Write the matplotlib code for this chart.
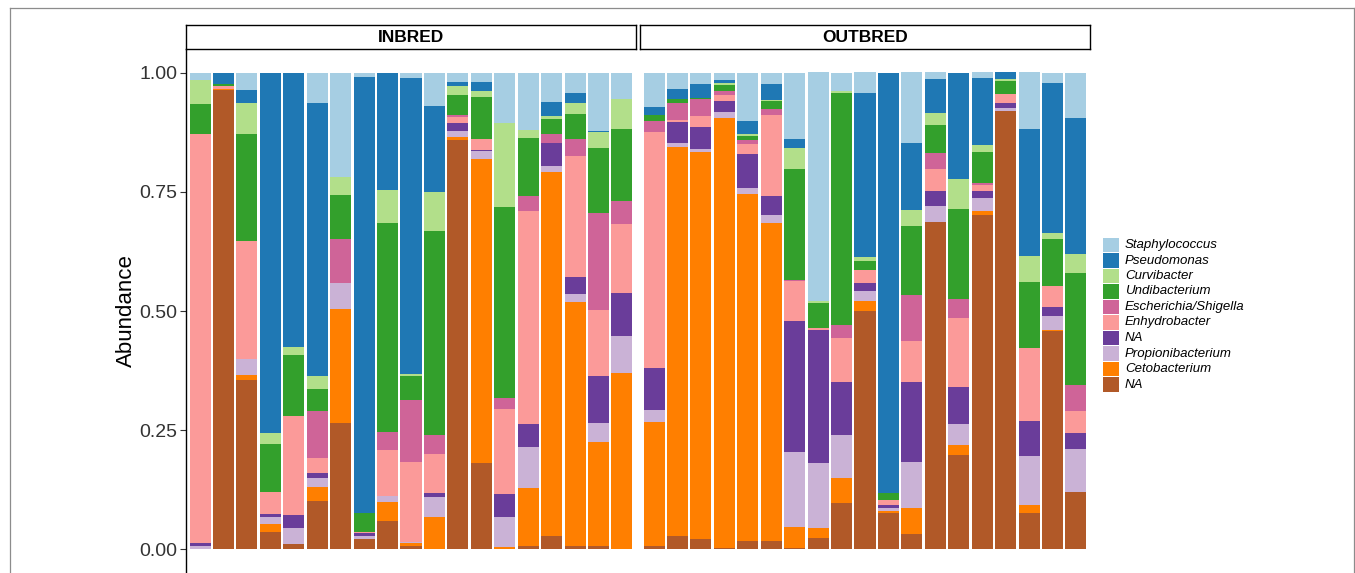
import matplotlib
matplotlib.use("Agg")
import matplotlib.pyplot as plt
import numpy as np
from matplotlib.lines import Line2D
from matplotlib.patches import Rectangle

plt.rcParams["font.family"] = ["Liberation Sans", "DejaVu Sans"]

# genus order from the bottom of each stack to the top
genera = [
    "NA", "Cetobacterium", "Propionibacterium", "NA", "Enhydrobacter",
    "Escherichia/Shigella", "Undibacterium", "Curvibacter", "Pseudomonas",
    "Staphylococcus",
]
colours = [
    "#B15928", "#FF7F00", "#CAB2D6", "#6A3D9A", "#FB9A99",
    "#CF6498", "#33A02C", "#B2DF8A", "#1F78B4", "#A6CEE3",
]

groups = ["INBRED", "OUTBRED"]

# relative abundance per sample, INBRED samples 1-19
inbred_na_brown = [0, 0.963, 0.355, 0.036, 0.010, 0.101, 0.265, 0.022, 0.059, 0.006,
                   0, 0.859, 0.181, 0, 0.006, 0.027, 0.007, 0.007, 0]
inbred_cetobacterium = [0, 0.003, 0.011, 0.017, 0, 0.029, 0.240, 0, 0.040, 0.006,
                        0.067, 0.006, 0.639, 0.005, 0.122, 0.765, 0.511, 0.218, 0.369]
inbred_propionibacterium = [0.007, 0, 0.033, 0.014, 0.034, 0.020, 0.054, 0.006, 0.012, 0.003,
                            0.042, 0.013, 0.015, 0.063, 0.086, 0.013, 0.018, 0.039, 0.078]
inbred_na_purple = [0.006, 0, 0, 0.006, 0.028, 0.010, 0, 0.005, 0, 0,
                    0.008, 0.016, 0.004, 0.048, 0.048, 0.047, 0.036, 0.099, 0.090]
inbred_enhydrobacter = [0.859, 0.007, 0.247, 0.047, 0.208, 0.032, 0, 0.003, 0.097, 0.168,
                        0.082, 0.014, 0.022, 0.178, 0.448, 0, 0.253, 0.140, 0.146]
inbred_escherichia = [0, 0, 0, 0, 0, 0.098, 0.092, 0, 0.038, 0.131,
                      0.041, 0.003, 0, 0.024, 0.031, 0.020, 0.036, 0.202, 0.047]
inbred_undibacterium = [0.063, 0.004, 0.226, 0.101, 0.128, 0.047, 0.092, 0.039, 0.438, 0.049,
                        0.427, 0.042, 0.089, 0.400, 0.123, 0.031, 0.053, 0.138, 0.153]
inbred_curvibacter = [0.049, 0, 0.064, 0.022, 0.017, 0.026, 0.038, 0, 0.070, 0.004,
                      0.082, 0.019, 0.012, 0.176, 0.015, 0.007, 0.022, 0.032, 0.062]
inbred_pseudomonas = [0, 0.023, 0.027, 0.757, 0.575, 0.573, 0, 0.916, 0.246, 0.623,
                      0.182, 0.008, 0.019, 0, 0, 0.029, 0.022, 0.003, 0]
inbred_staphylococcus = [0.016, 0, 0.037, 0, 0, 0.064, 0.218, 0.009, 0, 0.009,
                         0.069, 0.019, 0.019, 0.106, 0.120, 0.061, 0.041, 0.122, 0.055]

# OUTBRED samples 1-19
outbred_na_brown = [0.006, 0.027, 0.022, 0.003, 0.017, 0.017, 0.003, 0.024, 0.097, 0.499,
                    0.077, 0.032, 0.686, 0.197, 0.702, 0.919, 0.077, 0.458, 0.120]
outbred_cetobacterium = [0.261, 0.818, 0.811, 0.903, 0.729, 0.667, 0.044, 0.020, 0.053, 0.023,
                         0.003, 0.054, 0, 0.022, 0.008, 0, 0.015, 0.003, 0]
outbred_propionibacterium = [0.026, 0.007, 0.007, 0.012, 0.012, 0.017, 0.158, 0.137, 0.090, 0.019,
                             0.007, 0.096, 0.035, 0.044, 0.028, 0.007, 0.104, 0.028, 0.090]
outbred_na_purple = [0.087, 0.044, 0.046, 0.023, 0.071, 0.041, 0.273, 0.279, 0.111, 0.018,
                     0.005, 0.170, 0.030, 0.077, 0.013, 0.011, 0.074, 0.020, 0.034]
outbred_enhydrobacter = [0.496, 0.006, 0.024, 0.012, 0.021, 0.170, 0.085, 0.005, 0.093, 0.028,
                         0.012, 0.086, 0.048, 0.145, 0.014, 0.018, 0.152, 0.043, 0.047]
outbred_escherichia = [0.023, 0.035, 0.035, 0.008, 0.009, 0.011, 0.002, 0, 0.026, 0,
                       0, 0.095, 0.032, 0.041, 0.004, 0, 0, 0, 0.053]
outbred_undibacterium = [0.012, 0.009, 0.002, 0.013, 0.008, 0.017, 0.233, 0.051, 0.487, 0.017,
                         0.014, 0.146, 0.059, 0.188, 0.064, 0.027, 0.138, 0.100, 0.235]
outbred_curvibacter = [0, 0, 0, 0.005, 0.004, 0.003, 0.044, 0.005, 0.004, 0.009,
                       0, 0.034, 0.026, 0.064, 0.015, 0.004, 0.055, 0.011, 0.041]
outbred_pseudomonas = [0.017, 0.021, 0.030, 0.006, 0.027, 0.033, 0.019, 0, 0, 0.345,
                       0.882, 0.140, 0.070, 0.221, 0.142, 0.015, 0.268, 0.315, 0.285]
outbred_staphylococcus = [0.071, 0.032, 0.023, 0.015, 0.101, 0.024, 0.139, 0.480, 0.039, 0.043,
                          0, 0.148, 0.015, 0, 0.011, 0, 0.118, 0.022, 0.095]

panel_data = {
    "INBRED": [inbred_na_brown, inbred_cetobacterium, inbred_propionibacterium,
               inbred_na_purple, inbred_enhydrobacter, inbred_escherichia,
               inbred_undibacterium, inbred_curvibacter, inbred_pseudomonas,
               inbred_staphylococcus],
    "OUTBRED": [outbred_na_brown, outbred_cetobacterium, outbred_propionibacterium,
                outbred_na_purple, outbred_enhydrobacter, outbred_escherichia,
                outbred_undibacterium, outbred_curvibacter, outbred_pseudomonas,
                outbred_staphylococcus],
}

W, H = 1355, 573
fig = plt.figure(figsize=(W / 100, H / 100), dpi=100)


def fx(px):
    return px / W


def fy(py):
    return 1 - py / H


panel_left = [186, 640]
panel_w = 450
panel_top, panel_bottom = 49, 573
strip_top = 25

for i, grp in enumerate(groups):
    ax = fig.add_axes([fx(panel_left[i]), fy(panel_bottom), fx(panel_w),
                       (panel_bottom - panel_top) / H])
    series = panel_data[grp]
    n = len(series[0])
    x = np.arange(1, n + 1)
    bottom = np.zeros(n)
    for vals, col in zip(series, colours):
        vals = np.array(vals)
        ax.bar(x, vals, width=0.9, bottom=bottom, color=col, linewidth=0)
        bottom += vals
    ax.set_xlim(0.4, n + 0.6)
    ax.set_ylim(-0.05, 1.05)
    ax.set_xticks([])
    for s in ["top", "right", "bottom"]:
        ax.spines[s].set_visible(False)
    if i == 0:
        ax.spines["left"].set_linewidth(1.0)
        ax.spines["left"].set_color("black")
        ax.set_yticks([0, 0.25, 0.5, 0.75, 1.0])
        ax.set_yticklabels(["0.00", "0.25", "0.50", "0.75", "1.00"])
        ax.tick_params(axis="y", length=4, width=0.8, color="#333333",
                       labelsize=14, labelcolor="#333333", pad=2)
    else:
        ax.spines["left"].set_visible(False)
        ax.set_yticks([])

    # facet strip
    sax = fig.add_axes([fx(panel_left[i]), fy(panel_top), fx(panel_w),
                        (panel_top - strip_top) / H])
    sax.set_xticks([])
    sax.set_yticks([])
    for s in sax.spines.values():
        s.set_linewidth(1.0)
        s.set_color("black")
    sax.text(0.5, 0.47, grp, ha="center", va="center", fontsize=12.5,
             fontweight="bold", transform=sax.transAxes)

fig.text(fx(126), fy(311), "Abundance", rotation=90, ha="center", va="center",
         fontsize=16)

# legend, listed from the top of the stack down
key_x, key_w, key_h = 1103, 16, 14.5
row_y0, row_step = 245, 15.5
for k, idx in enumerate(range(len(genera) - 1, -1, -1)):
    yc = row_y0 + k * row_step
    fig.add_artist(Rectangle((fx(key_x), fy(yc + key_h / 2)), fx(key_w), key_h / H,
                             transform=fig.transFigure, facecolor=colours[idx],
                             edgecolor="none"))
    fig.text(fx(1125), fy(yc), genera[idx], ha="left", va="center",
             fontsize=9.5, style="italic")

# thin frame around the figure
frame = dict(transform=fig.transFigure, color="#8c8c8c", linewidth=0.9)
fig.add_artist(Line2D([fx(9.5), fx(9.5)], [fy(7.5), 0], **frame))
fig.add_artist(Line2D([fx(1353.5), fx(1353.5)], [fy(7.5), 0], **frame))
fig.add_artist(Line2D([fx(9.5), fx(1353.5)], [fy(7.5), fy(7.5)], **frame))

fig.savefig("out.png", dpi=100)
